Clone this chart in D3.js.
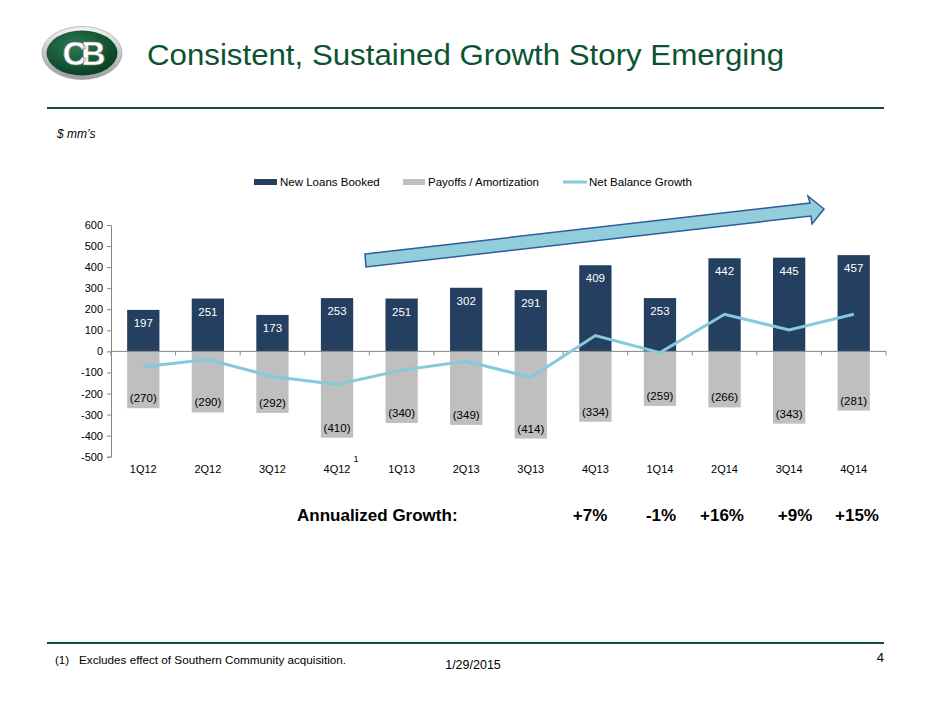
<!DOCTYPE html>
<html><head><meta charset="utf-8">
<script src="https://cdn.jsdelivr.net/npm/d3@7"></script>
<style>body{margin:0;background:#fff;} text{font-family:"Liberation Sans",Arial,sans-serif;}</style>
</head><body>
<svg id="c" width="940" height="705"></svg>
<script>
const categories = ["1Q12","2Q12","3Q12","4Q12","1Q13","2Q13","3Q13","4Q13","1Q14","2Q14","3Q14","4Q14"];
const newLoans = [197,251,173,253,251,302,291,409,253,442,445,457];
const payoffs = [-270,-290,-292,-410,-340,-349,-414,-334,-259,-266,-343,-281];
const netGrowth = [-73,-39,-119,-157,-89,-47,-123,75,-6,176,102,176];
const yTicks = [-500,-400,-300,-200,-100,0,100,200,300,400,500,600];
const growthLabels = ["+7%","-1%","+16%","+9%","+15%"];

const svg = d3.select("#c");
const green = "#0b5332";
const cNew = "#243f60", cPay = "#bfbfbf", cNet = "#86c9dd";

// Logo
const defs = svg.append("defs");
const lg = defs.append("radialGradient").attr("id","lg").attr("cx","40%").attr("cy","35%").attr("r","70%");
lg.append("stop").attr("offset","0%").attr("stop-color","#2e7a52");
lg.append("stop").attr("offset","100%").attr("stop-color","#063d22");
const rg = defs.append("linearGradient").attr("id","rg").attr("x1","0").attr("y1","0").attr("x2","0").attr("y2","1");
rg.append("stop").attr("offset","0%").attr("stop-color","#f4f4f4");
rg.append("stop").attr("offset","100%").attr("stop-color","#9a9a9a");
const logo = svg.append("g");
logo.append("ellipse").attr("cx",82).attr("cy",53).attr("rx",40).attr("ry",26.5).attr("fill","url(#rg)").attr("stroke","#aaa").attr("stroke-width",0.8);
logo.append("ellipse").attr("cx",82).attr("cy",53).attr("rx",35.5).attr("ry",22.5).attr("fill","url(#lg)");
logo.append("text").attr("x",81).attr("y",65).attr("text-anchor","middle").attr("font-family","Liberation Serif,serif").attr("font-size",34).attr("font-weight","bold").attr("fill","#fff").attr("stroke","#888").attr("stroke-width",0.6).attr("letter-spacing",-6).text("CB");

// Title
svg.append("text").attr("x",147).attr("y",65).attr("font-size",30).attr("fill",green)
  .attr("textLength",637).attr("lengthAdjust","spacingAndGlyphs").text("Consistent, Sustained Growth Story Emerging");
svg.append("line").attr("x1",47).attr("x2",884).attr("y1",108).attr("y2",108).attr("stroke",green).attr("stroke-width",2);
svg.append("text").attr("x",57).attr("y",138).attr("font-size",12).attr("font-style","italic").attr("fill","#000").text("$ mm\u2019s");

// scales
const x = d3.scaleBand().domain(categories).range([111,886]).paddingInner(0.5).paddingOuter(0.25);
const xb = d3.scaleBand().domain(categories).range([111,886]);
const y = d3.scaleLinear().domain([-500,600]).range([456.7,225]);

// y axis
const yAxis = d3.axisLeft(y).tickValues(yTicks).tickSize(4).tickFormat(d3.format("d"));
const ga = svg.append("g").attr("transform","translate(111,0)").call(yAxis);
ga.select(".domain").attr("stroke","#868686");
ga.selectAll(".tick line").attr("stroke","#868686");
ga.selectAll(".tick text").attr("font-size",11).attr("fill","#000").attr("x",-8).text(d=>d);

// bars
svg.selectAll(".bn").data(categories).join("rect").attr("x",d=>x(d)).attr("width",x.bandwidth())
  .attr("y",(d,i)=>y(newLoans[i])).attr("height",(d,i)=>y(0)-y(newLoans[i])).attr("fill",cNew);
svg.selectAll(".bp").data(categories).join("rect").attr("x",d=>x(d)).attr("width",x.bandwidth())
  .attr("y",y(0)).attr("height",(d,i)=>y(payoffs[i])-y(0)).attr("fill",cPay);

// x axis at zero
const xAxisG = svg.append("g");
xAxisG.append("line").attr("x1",111).attr("x2",886).attr("y1",y(0)).attr("y2",y(0)).attr("stroke","#868686");
xAxisG.selectAll("line.t").data(categories.concat(["end"])).join("line")
  .attr("x1",(d,i)=>111+i*xb.bandwidth()).attr("x2",(d,i)=>111+i*xb.bandwidth())
  .attr("y1",y(0)).attr("y2",y(0)+4).attr("stroke","#868686");
svg.selectAll(".cl").data(categories).join("text").attr("x",d=>xb(d)+xb.bandwidth()/2).attr("y",473)
  .attr("text-anchor","middle").attr("font-size",11).attr("fill","#000").text(d=>d);
svg.append("text").attr("x",356).attr("y",462).attr("font-size",9).attr("text-anchor","middle").text("1");

// line
const line = d3.line().x((d,i)=>xb(categories[i])+xb.bandwidth()/2).y(d=>y(d));
svg.append("path").datum(netGrowth).attr("d",line).attr("fill","none").attr("stroke",cNet).attr("stroke-width",3);

// data labels
svg.selectAll(".ln").data(newLoans).join("text").attr("x",(d,i)=>xb(categories[i])+xb.bandwidth()/2)
  .attr("y",d=>y(d)+17).attr("text-anchor","middle").attr("font-size",11.5).attr("fill","#fff").text(d=>d);
svg.selectAll(".lp").data(payoffs).join("text").attr("x",(d,i)=>xb(categories[i])+xb.bandwidth()/2)
  .attr("y",d=>y(d)-6).attr("text-anchor","middle").attr("font-size",11.5).attr("fill","#000").text(d=>"("+(-d)+")");

// legend
const leg = svg.append("g").attr("font-size",11.5);
leg.append("rect").attr("x",254).attr("y",179).attr("width",23).attr("height",6).attr("fill",cNew);
leg.append("text").attr("x",280).attr("y",186).text("New Loans Booked");
leg.append("rect").attr("x",403).attr("y",179).attr("width",22).attr("height",6).attr("fill",cPay);
leg.append("text").attr("x",428).attr("y",186).text("Payoffs / Amortization");
leg.append("line").attr("x1",563).attr("x2",587).attr("y1",182).attr("y2",182).attr("stroke",cNet).attr("stroke-width",3);
leg.append("text").attr("x",589).attr("y",186).text("Net Balance Growth");

// arrow
const arrowPts = [[365,254],[810,203],[808,196],[824,209],[812,224],[811,216],[366,267]];
svg.append("path").attr("d",d3.line()(arrowPts)+"Z").attr("fill","#92cddc").attr("stroke","#2f5c9c").attr("stroke-width",1.5);

// annualized growth
svg.append("text").attr("x",297).attr("y",521).attr("font-size",17).attr("font-weight","bold").text("Annualized Growth:");
const gx = [590,661,722,795,857];
svg.selectAll(".gl").data(growthLabels).join("text").attr("x",(d,i)=>gx[i]).attr("y",521).attr("text-anchor","middle")
  .attr("font-size",17).attr("font-weight","bold").text(d=>d);

// footer
svg.append("line").attr("x1",47).attr("x2",884).attr("y1",643).attr("y2",643).attr("stroke",green).attr("stroke-width",2);
svg.append("text").attr("x",55).attr("y",664).attr("font-size",11.5).text("(1)");
svg.append("text").attr("x",79).attr("y",664).attr("font-size",11.5).attr("textLength",267).attr("lengthAdjust","spacingAndGlyphs").text("Excludes effect of Southern Community acquisition.");
svg.append("text").attr("x",473).attr("y",669).attr("text-anchor","middle").attr("font-size",12.5).text("1/29/2015");
svg.append("text").attr("x",884).attr("y",662).attr("text-anchor","end").attr("font-size",13).text("4");
</script>
</body></html>
